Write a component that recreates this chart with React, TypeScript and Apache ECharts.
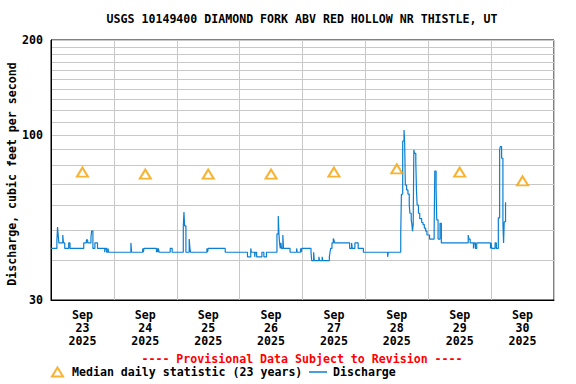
import React, { useEffect, useRef } from "react";
import * as echarts from "echarts";

// Hours since 2025-09-23 00:00 and discharge (cfs) at each step change
const dischargeHours = [
  0, 2.25, 2.5, 2.75, 3.0, 4.5, 4.75, 5.25, 6.75, 7.25,
  12.5, 13.5, 14.0, 15.25, 15.5, 16.0, 16.75, 17.75, 20.5, 20.75,
  21.25, 21.75, 22.0, 30.5, 30.75, 35.0, 35.25, 35.5, 40.25, 40.5,
  40.75, 41.0, 41.25, 45.5, 46.25, 50.5, 50.75, 51.0, 51.5, 52.75,
  53.0, 53.25, 59.5, 59.75, 60.0, 66.5, 75.0, 76.25, 76.5, 77.75,
  78.0, 78.5, 80.5, 81.25, 82.25, 86.25, 86.75, 87.0, 87.25, 87.5,
  87.75, 88.0, 88.5, 88.75, 91.25, 93.75, 94.0, 95.25, 95.5, 95.75,
  99.25, 99.5, 100.25, 100.5, 102.25, 102.5, 103.5, 103.75, 106.25, 106.5,
  106.75, 107.25, 107.75, 108.0, 108.25, 114.0, 114.75, 115.0, 116.0, 117.25,
  119.25, 128.5, 128.75, 133.5, 133.75, 134.25, 134.75, 135.0, 135.25, 135.75,
  136.25, 136.75, 137.0, 137.5, 137.75, 138.0, 138.25, 138.5, 138.75, 139.25,
  139.5, 139.75, 140.25, 140.75, 141.5, 142.0, 142.5, 143.0, 143.5, 144.5,
  146.25, 146.5, 147.0, 147.25, 147.75, 148.5, 149.0, 159.25, 159.5, 160.0,
  161.25, 161.5, 162.0, 162.5, 167.75, 168.0, 168.25, 169.5, 170.0, 170.75,
  171.25, 171.5, 172.0, 172.5, 172.75, 173.0, 173.5,
];
const dischargeValues = [
  43.7, 46.5, 51.1, 48.2, 45.5, 48.2, 45.5, 43.7, 45.5, 43.7,
  45.5, 46.5, 45.5, 47.4, 49.6, 43.7, 45.5, 43.7, 42.5, 43.7,
  42.5, 43.7, 42.5, 45.5, 42.5, 43.7, 42.5, 43.7, 42.5, 43.7,
  42.5, 43.7, 42.5, 43.7, 42.5, 51.5, 57.0, 51.5, 42.5, 46.8,
  44.0, 42.5, 43.7, 42.5, 43.7, 42.5, 41.1, 43.7, 42.5, 41.1,
  42.5, 41.1, 42.5, 41.1, 42.5, 48.6, 55.4, 48.6, 45.5, 43.7,
  45.5, 43.7, 48.2, 43.7, 42.5, 43.7, 42.5, 43.7, 42.5, 43.7,
  42.5, 40.0, 42.5, 40.0, 41.1, 40.0, 41.1, 40.0, 41.1, 42.5,
  43.7, 45.5, 47.0, 46.5, 45.5, 43.7, 45.5, 43.7, 45.5, 43.7,
  42.5, 41.1, 42.5, 48.9, 64.9, 95.7, 103.7, 94.1, 69.4, 67.0,
  65.0, 60.0, 56.5, 53.8, 52.1, 49.6, 52.1, 89.7, 87.5, 82.1,
  67.0, 60.0, 56.5, 54.3, 52.8, 52.0, 50.7, 49.6, 48.2, 46.8,
  50.5, 76.9, 67.0, 53.8, 46.8, 52.5, 45.5, 48.2, 46.8, 45.5,
  43.7, 45.5, 43.7, 45.5, 43.7, 45.5, 43.7, 45.5, 43.7, 54.6,
  89.7, 91.8, 84.4, 52.5, 45.5, 53.1, 61.2,
];

// Median daily statistic (23 years), plotted at noon of each day
const medianHours = [12, 36, 60, 84, 108, 132, 156, 180];
const medianValues = [76.3, 75.2, 75.2, 75.2, 76.3, 78.1, 76.3, 71.6];

// Axis ticks
const dayLabels = ["23", "24", "25", "26", "27", "28", "29", "30"];
const yGridValues = [30, 40, 50, 60, 70, 80, 90, 100, 110, 120, 130, 140, 150, 160, 170, 180, 190, 200];
const yLabelValues = [30, 100, 200];

const TITLE = "USGS 10149400 DIAMOND FORK ABV RED HOLLOW NR THISTLE, UT";
const Y_NAME = "Discharge, cubic feet per second";
const FONT = "'DejaVu Sans Mono', 'Liberation Mono', monospace";
const FS = 11.6;

export default function App() {
  const ref = useRef<HTMLDivElement>(null);

  useEffect(() => {
    if (!ref.current) return;
    const chart = echarts.init(ref.current, null, { renderer: "svg" });
    const lg = (v: number) => Math.log10(v);

    const dischargeData = dischargeHours.map((h, i) => [h, lg(dischargeValues[i])]);
    const medianData = medianHours.map((h, i) => [h, lg(medianValues[i])]);

    const textBase = { fontFamily: FONT, fontWeight: "bold" as const, fontSize: FS, color: "#000" };

    chart.setOption({
      animation: false,
      backgroundColor: "#fff",
      grid: {
        left: 51,
        right: 22,
        top: 40,
        bottom: 84,
        show: true,
        borderColor: "#000",
        borderWidth: 1,
        containLabel: false,
        outerBoundsMode: "none",
      },
      graphic: [
        {
          type: "text",
          x: 302,
          y: 19,
          style: {
            text: TITLE,
            textAlign: "center",
            textVerticalAlign: "middle",
            font: `bold ${FS}px ${FONT}`,
            fill: "#000",
          },
        },
        {
          type: "text",
          x: 12,
          y: 174,
          rotation: Math.PI / 2,
          style: {
            text: Y_NAME,
            textAlign: "center",
            textVerticalAlign: "middle",
            font: `bold ${FS}px ${FONT}`,
            fill: "#000",
          },
        },
        {
          type: "text",
          x: 302,
          y: 358.5,
          style: {
            text: "---- Provisional Data Subject to Revision ----",
            textAlign: "center",
            textVerticalAlign: "middle",
            font: `bold ${FS}px ${FONT}`,
            fill: "#ff0000",
          },
        },
      ],
      legend: [
        {
          data: ["Median daily statistic (23 years)"],
          left: 51,
          top: 366,
          padding: 0,
          itemWidth: 11,
          itemHeight: 9,
          textStyle: { ...textBase, padding: [0, 0, 0, 4] },
          selectedMode: false,
        },
        {
          data: [{ name: "Discharge", icon: "rect" }],
          left: 309,
          top: 366,
          padding: 0,
          itemWidth: 18,
          itemHeight: 1.5,
          textStyle: { ...textBase, padding: [0, 0, 0, 1] },
          selectedMode: false,
        },
      ],
      xAxis: {
        type: "value",
        min: 0,
        max: 192,
        interval: 24,
        axisLine: { show: true, lineStyle: { color: "#000", width: 1 } },
        axisTick: { show: false },
        splitLine: { show: true, lineStyle: { color: "#c8c8c8", width: 1 } },
        axisLabel: {
          customValues: medianHours,
          margin: 8,
          ...textBase,
          lineHeight: 13,
          align: "center",
          formatter: (v: number) => `Sep\n${dayLabels[Math.floor(v / 24)]}\n2025`,
        },
      },
      yAxis: {
        type: "value",
        min: lg(30),
        max: lg(200),
        axisLine: { show: true, lineStyle: { color: "#000", width: 1 } },
        axisTick: { show: false, customValues: yGridValues.map(lg) },
        splitLine: { show: true, lineStyle: { color: "#c8c8c8", width: 1 } },
        axisLabel: {
          customValues: yLabelValues.map(lg),
          margin: 8,
          ...textBase,
          formatter: (v: number) => String(Math.round(Math.pow(10, v))),
        },
      },
      series: [
        {
          name: "Median daily statistic (23 years)",
          type: "scatter",
          data: medianData,
          symbol: "emptyTriangle",
          symbolSize: [11, 9],
          itemStyle: { color: "#f5a000", borderWidth: 1.2 },
          z: 5,
        },
        {
          name: "Discharge",
          type: "line",
          step: "end",
          data: dischargeData,
          symbol: "none",
          showSymbol: false,
          lineStyle: { color: "#0b7fd1", width: 1.2 },
          itemStyle: { color: "#0b7fd1" },
          z: 4,
        },
      ],
    });

    return () => chart.dispose();
  }, []);

  return (
    <div
      ref={ref}
      style={{ position: "absolute", left: 0, top: 0, width: 576, height: 384 }}
    />
  );
}
